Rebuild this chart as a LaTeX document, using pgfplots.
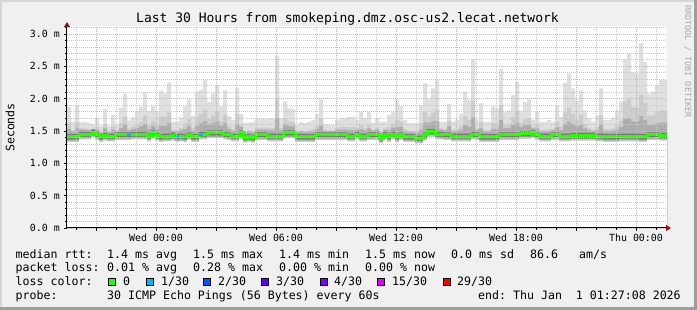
\documentclass[border=0pt]{standalone}
\usepackage{pgfplots}
\pgfplotsset{compat=1.18}
\usepackage{pgfplotstable}
\usepackage{fontspec}
\setmainfont{DejaVu Sans Mono}
\setmonofont{DejaVu Sans Mono}
\usetikzlibrary{arrows.meta}
\newcommand\SP{\hspace*{0.602em}}
\definecolor{bg}{HTML}{F0F0F0}
\definecolor{frlight}{HTML}{D6D6D6}
\definecolor{frdark}{HTML}{9E9E9E}
\definecolor{wmark}{HTML}{A8A8A8}
\definecolor{s1}{HTML}{DFDFDF}
\definecolor{s2}{HTML}{CCCCCC}
\definecolor{s3}{HTML}{ADADAD}
\definecolor{s4}{HTML}{7A7A7A}
\definecolor{s5}{HTML}{959595}
\definecolor{s6}{HTML}{C6C6C6}
\definecolor{lc0}{HTML}{26FF00}
\definecolor{lc1}{HTML}{00B8FF}
\definecolor{lc2}{HTML}{0059FF}
\definecolor{lc3}{HTML}{5E00FF}
\definecolor{lc4}{HTML}{7E00FF}
\definecolor{lc15}{HTML}{DD00FF}
\definecolor{lc29}{HTML}{FF0000}
\definecolor{mgrid}{HTML}{F4A0A0}
\definecolor{ngrid}{HTML}{C8C8C8}
\definecolor{arrowred}{HTML}{8B1A1A}
\pgfplotstableread{
x max p90 p75 med
-4.45 1.88 1.62 1.53 1.41
-4.25 1.64 1.51 1.49 1.41
-4.05 1.90 1.63 1.54 1.41
-3.85 1.64 1.54 1.52 1.45
-3.65 1.64 1.54 1.52 1.45
-3.45 1.62 1.53 1.51 1.45
-3.25 1.60 1.53 1.53 1.48
-3.05 1.71 1.56 1.52 1.44
-2.85 1.58 1.49 1.47 1.41
-2.65 1.84 1.61 1.54 1.43
-2.45 1.58 1.49 1.48 1.42
-2.25 1.75 1.57 1.52 1.42
-2.05 1.59 1.51 1.50 1.44
-1.85 1.86 1.63 1.55 1.44
-1.65 2.08 1.73 1.60 1.44
-1.45 1.66 1.54 1.51 1.44
-1.25 1.71 1.57 1.53 1.45
-1.05 1.81 1.61 1.55 1.45
-0.85 1.88 1.64 1.57 1.45
-0.65 2.10 1.74 1.61 1.45
-0.45 1.81 1.60 1.53 1.42
-0.25 1.89 1.66 1.58 1.47
-0.05 1.80 1.60 1.53 1.43
0.15 2.12 1.73 1.58 1.41
0.35 2.08 1.72 1.58 1.42
0.55 2.25 1.79 1.62 1.42
0.75 1.64 1.52 1.50 1.43
0.95 1.64 1.51 1.49 1.41
1.15 1.71 1.55 1.51 1.42
1.35 1.88 1.62 1.53 1.41
1.55 1.99 1.69 1.58 1.44
1.75 1.73 1.55 1.50 1.41
1.95 2.10 1.72 1.58 1.41
2.15 2.14 1.76 1.62 1.45
2.35 2.29 1.83 1.65 1.45
2.55 1.95 1.69 1.60 1.47
2.75 2.08 1.74 1.62 1.47
2.95 2.21 1.80 1.65 1.47
3.15 1.88 1.65 1.58 1.47
3.35 2.13 1.76 1.62 1.45
3.55 1.73 1.57 1.53 1.44
3.75 1.67 1.53 1.50 1.42
3.95 2.17 1.76 1.60 1.42
4.15 1.76 1.60 1.56 1.47
4.35 1.63 1.50 1.48 1.40
4.55 1.63 1.51 1.49 1.41
4.75 1.64 1.50 1.48 1.40
4.95 1.69 1.55 1.52 1.44
5.15 1.69 1.55 1.52 1.44
5.35 1.69 1.55 1.52 1.44
5.55 1.70 1.55 1.51 1.42
5.75 1.70 1.55 1.51 1.42
5.95 2.66 1.98 1.70 1.42
6.15 1.70 1.55 1.51 1.42
6.35 1.96 1.69 1.60 1.47
6.55 1.85 1.64 1.58 1.47
6.75 1.84 1.64 1.57 1.47
6.95 1.59 1.49 1.48 1.41
7.15 1.64 1.51 1.49 1.41
7.35 1.62 1.50 1.48 1.41
7.55 1.64 1.51 1.49 1.41
7.75 1.67 1.53 1.49 1.41
7.95 1.76 1.58 1.53 1.44
8.15 1.99 1.69 1.58 1.44
8.35 1.61 1.52 1.50 1.44
8.55 1.59 1.51 1.50 1.44
8.75 1.59 1.51 1.50 1.44
8.95 1.67 1.54 1.52 1.44
9.15 1.70 1.56 1.52 1.44
9.35 1.70 1.56 1.52 1.44
9.55 1.72 1.56 1.51 1.42
9.75 1.72 1.56 1.51 1.42
9.95 1.67 1.55 1.52 1.45
10.15 1.80 1.59 1.53 1.42
10.35 1.70 1.55 1.51 1.42
10.55 1.80 1.60 1.54 1.44
10.75 1.62 1.52 1.51 1.44
10.95 1.70 1.56 1.52 1.44
11.15 1.64 1.50 1.47 1.39
11.35 1.64 1.54 1.52 1.45
11.55 1.75 1.56 1.51 1.41
11.75 1.80 1.61 1.55 1.45
11.95 1.99 1.67 1.56 1.41
12.15 1.88 1.64 1.56 1.44
12.35 1.67 1.53 1.49 1.41
12.55 1.62 1.50 1.48 1.41
12.75 1.62 1.50 1.48 1.41
12.95 1.62 1.49 1.47 1.39
13.15 1.90 1.62 1.52 1.39
13.35 2.24 1.80 1.63 1.44
13.55 2.00 1.72 1.62 1.49
13.75 2.16 1.79 1.65 1.49
13.95 2.29 1.83 1.65 1.45
14.15 1.64 1.54 1.52 1.45
14.35 1.64 1.53 1.51 1.44
14.55 1.92 1.66 1.57 1.44
14.75 1.64 1.52 1.49 1.42
14.95 1.67 1.53 1.50 1.42
15.15 1.77 1.58 1.52 1.42
15.35 2.11 1.73 1.59 1.42
15.55 1.98 1.67 1.56 1.42
15.75 2.61 1.97 1.71 1.45
15.95 1.67 1.54 1.52 1.44
16.15 1.93 1.64 1.54 1.41
16.35 1.64 1.51 1.49 1.41
16.55 1.64 1.51 1.49 1.41
16.75 1.88 1.62 1.53 1.41
16.95 1.85 1.61 1.53 1.41
17.15 2.46 1.90 1.67 1.44
17.35 1.80 1.60 1.54 1.44
17.55 1.82 1.61 1.55 1.44
17.75 2.06 1.72 1.59 1.44
17.95 2.26 1.81 1.63 1.44
18.15 1.81 1.62 1.56 1.46
18.35 1.95 1.68 1.59 1.46
18.55 1.99 1.70 1.60 1.46
18.75 1.67 1.56 1.54 1.47
18.95 1.80 1.60 1.54 1.44
19.15 1.64 1.52 1.49 1.42
19.35 1.64 1.52 1.49 1.42
19.55 1.67 1.53 1.50 1.42
19.75 1.64 1.53 1.51 1.44
19.95 1.90 1.65 1.56 1.44
20.15 1.72 1.56 1.51 1.42
20.35 2.24 1.79 1.61 1.42
20.55 2.39 1.86 1.64 1.42
20.75 2.16 1.76 1.61 1.43
20.95 1.97 1.67 1.57 1.43
21.15 2.13 1.75 1.60 1.43
21.35 1.82 1.61 1.54 1.43
21.55 1.70 1.55 1.51 1.43
21.75 1.64 1.52 1.50 1.43
21.95 1.74 1.56 1.51 1.42
22.15 2.16 1.75 1.60 1.42
22.35 1.67 1.53 1.49 1.41
22.55 1.67 1.53 1.49 1.41
22.75 1.70 1.54 1.50 1.41
22.95 1.82 1.59 1.52 1.41
23.15 1.96 1.66 1.56 1.42
23.35 2.61 1.96 1.69 1.42
23.55 2.69 1.99 1.70 1.42
23.75 2.41 1.87 1.65 1.42
23.95 2.39 1.86 1.64 1.42
24.15 2.86 2.06 1.73 1.41
24.35 2.57 1.93 1.67 1.41
24.55 2.08 1.73 1.60 1.44
24.75 2.11 1.74 1.60 1.44
24.95 2.21 1.79 1.62 1.44
25.15 2.29 1.82 1.63 1.43
25.35 2.29 1.82 1.63 1.43
25.55 2.29 1.82 1.63 1.43
}\smoke
\newcommand{\lgd}{\fontsize{11.6}{14}\selectfont}
\begin{document}
\begin{tikzpicture}[x=1pt,y=1pt, lg/.style={inner sep=0pt, anchor=base west, font=\lgd}]
\useasboundingbox (0,0) rectangle (697,310);
\fill[bg] (0,0) rectangle (697,310);
\fill[frlight] (0,0) rectangle (2,310);
\fill[frlight] (0,308) rectangle (697,310);
\fill[frdark] (694,0) rectangle (697,310);
\fill[frdark] (0,0) rectangle (697,3);
\begin{axis}[
  at={(67pt,82pt)}, anchor=south west,
  scale only axis, width=600pt, height=202pt,
  xmin=-4.45, xmax=25.55, ymin=0, ymax=3.124,
  axis background/.style={fill=white},
  axis on top,
  axis lines=left,
  axis line style={draw=black, line width=1pt, -{Triangle[length=5pt,width=6pt,color=arrowred]}, shorten >=-4pt},
  xtick={-3,0,3,6,9,12,15,18,21,24},
  xticklabels={,Wed\SP 00:00,,Wed\SP 06:00,,Wed\SP 12:00,,Wed\SP 18:00,,Thu\SP 00:00},
  minor xtick={-4,-2,-1,1,2,4,5,7,8,10,11,13,14,16,17,19,20,22,23,25},
  ytick={0,0.5,1,1.5,2,2.5,3},
  yticklabels={0.0\SP m,0.5\SP m,1.0\SP m,1.5\SP m,2.0\SP m,2.5\SP m,3.0\SP m},
  minor ytick={0.1,0.2,0.3,0.4,0.6,0.7,0.8,0.9,1.1,1.2,1.3,1.4,1.6,1.7,1.8,1.9,2.1,2.2,2.3,2.4,2.6,2.7,2.8,2.9,3.1},
  tick align=outside,
  major tick length=3pt, minor tick length=2pt,
  tick style={black, line width=0.8pt},
  grid=both,
  major grid style={draw=mgrid, line width=0.8pt, dash pattern=on 1pt off 1pt},
  minor grid style={draw=ngrid, line width=0.8pt, dash pattern=on 1pt off 1pt},
  tick label style={font=\fontsize{9.9}{11}\selectfont, inner sep=0pt},
  xticklabel style={anchor=north, yshift=-3pt},
  yticklabel style={anchor=east, xshift=-4pt},
  clip=true,
]
\addplot[const plot, fill=s1, draw=none] table[x=x, y=max] {\smoke} \closedcycle;
\addplot[const plot, fill=s2, draw=none] table[x=x, y=p90] {\smoke} \closedcycle;
\addplot[const plot, fill=s3, draw=none] table[x=x, y=p75] {\smoke} \closedcycle;
\addplot[const plot, fill=s4, draw=none] table[x=x, y expr=\thisrow{med}+0.04] {\smoke} \closedcycle;
\addplot[const plot, fill=s5, draw=none] table[x=x, y expr=\thisrow{med}-0.035] {\smoke} \closedcycle;
\addplot[const plot, fill=s6, draw=none] table[x=x, y expr=\thisrow{med}-0.055] {\smoke} \closedcycle;
\addplot[const plot, fill=white, draw=none] table[x=x, y expr=\thisrow{med}-0.08] {\smoke} \closedcycle;
\addplot[const plot, draw=lc0, line width=3pt] table[x=x, y=med] {\smoke};
\addplot[draw=lc1, line width=3pt] coordinates {(-1.45,1.44) (-1.25,1.44)};
\addplot[draw=lc1, line width=3pt] coordinates {(0.95,1.41) (1.15,1.41)};
\addplot[draw=lc1, line width=3pt] coordinates {(2.15,1.45) (2.35,1.45)};
\end{axis}
% title
\node[inner sep=0pt, font=\fontsize{13}{15}\selectfont] at (347.5,291) {Last\SP 30\SP Hours\SP from\SP smokeping.dmz.osc-us2.lecat.network};
\node[inner sep=0pt, rotate=90, font=\fontsize{11.6}{14}\selectfont] at (10,182.5) {Seconds};
\node[inner sep=0pt, rotate=-90, anchor=west, text=wmark, font=\fontsize{8.5}{9}\selectfont] at (688,305) {RRDTOOL\SP /\SP TOBI\SP OETIKER};
% legend row 1
\node[lg] at (15.5,51.7) {median\SP rtt:};
\node[lg] at (107,51.7) {1.4\SP ms\SP avg};
\node[lg] at (193,51.7) {1.5\SP ms\SP max};
\node[lg] at (279,51.7) {1.4\SP ms\SP min};
\node[lg] at (365,51.7) {1.5\SP ms\SP now};
\node[lg] at (451,51.7) {0.0\SP ms\SP sd};
\node[lg] at (530,51.7) {86.6};
\node[lg] at (579,51.7) {am/s};
% row 2
\node[lg] at (15.5,38) {packet\SP loss:};
\node[lg] at (107,38) {0.01\SP\%\SP avg};
\node[lg] at (193,38) {0.28\SP\%\SP max};
\node[lg] at (279,38) {0.00\SP\%\SP min};
\node[lg] at (365,38) {0.00\SP\%\SP now};
% row 3
\node[lg] at (15.5,24) {loss\SP color:};
\foreach \bx/\cc in {108/lc0, 146/lc1, 203/lc2, 261/lc3, 320/lc4, 377/lc15, 443/lc29}{
  \draw[fill=\cc, draw=black, line width=0.8pt] (\bx,24.5) rectangle ++(7.5,7.5);
}
\node[lg] at (123,24) {0};
\node[lg] at (161,24) {1/30};
\node[lg] at (218,24) {2/30};
\node[lg] at (276,24) {3/30};
\node[lg] at (334,24) {4/30};
\node[lg] at (392,24) {15/30};
\node[lg] at (457,24) {29/30};
% row 4
\node[lg] at (15.5,10.3) {probe:};
\node[lg] at (107,10.3) {30\SP ICMP\SP Echo\SP Pings\SP (56\SP Bytes)\SP every\SP 60s};
\node[lg] at (478,10.3) {end:\SP Thu\SP Jan\SP\SP 1\SP 01:27:08\SP 2026};
\end{tikzpicture}
\end{document}
